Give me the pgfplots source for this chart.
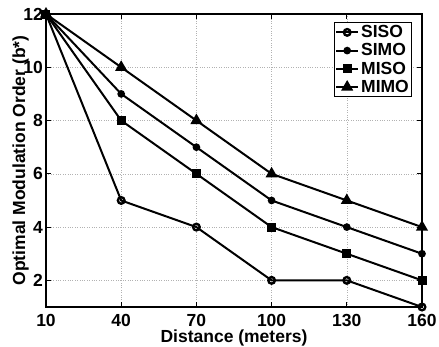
\documentclass[border=0pt]{standalone}
\usepackage{pgfplots}
\pgfplotsset{compat=1.18}
\usepackage{fontspec}
\setmainfont{Liberation Sans}
\begin{document}
\begin{tikzpicture}
\begin{axis}[
  scale only axis,
  width=376pt, height=293pt,
  xmin=10, xmax=160, ymin=1, ymax=12,
  xtick={10,40,70,100,130,160},
  ytick={2,4,6,8,10,12},
  grid=major,
  major grid style={dotted, gray!60, line width=0.6pt},
  tick align=inside,
  major tick length=5pt,
  axis line style={line width=1.2pt},
  every tick/.style={black, line width=0.8pt},
  /pgf/number format/assume math mode=true,
  tick label style={font=\fontsize{17.5}{20}\selectfont\bfseries},
  xticklabel style={anchor=base, inner sep=0pt, yshift=-19.5pt},
  yticklabel style={anchor=east, inner sep=0pt, xshift=-3pt},
  xlabel={Distance (meters)},
  ylabel={Optimal Modulation Order (b*)},
  label style={font=\fontsize{17.5}{20}\selectfont\bfseries, inner sep=0pt},
  xlabel style={at={(rel axis cs:0.5,0)}, anchor=base, yshift=-35.5pt},
  ylabel style={at={(rel axis cs:0,0.5)}, anchor=center, yshift=25.5pt},
  legend style={at={(rel axis cs:0.9745,0.973)}, anchor=north east,
    font=\fontsize{17.5}{20}\selectfont\bfseries, draw=black, line width=1.2pt,
    inner sep=1pt, row sep=0.5pt},
  legend cell align=left,
  legend image code/.code={%
    \draw[mark repeat=2,mark phase=2] plot coordinates {(0pt,0pt) (11pt,0pt) (22pt,0pt)};},
  legend image post style={line width=2pt},
  every axis plot/.append style={line width=2pt, black},
  clip=false,
]
\coordinate (ll) at (rel axis cs:0,0);
\addplot[mark=o, mark size=3.3pt, mark options={line width=2.4pt, fill=white}] coordinates {(10,12) (40,5) (70,4) (100,2) (130,2) (160,1)};
\addplot[mark=*, mark size=2.8pt] coordinates {(10,12) (40,9) (70,7) (100,5) (130,4) (160,3)};
\addplot[mark=square*, mark size=3.5pt] coordinates {(10,12) (40,8) (70,6) (100,4) (130,3) (160,2)};
\addplot[mark=triangle*, mark size=5pt] coordinates {(10,12) (40,10) (70,8) (100,6) (130,5) (160,4)};
\legend{SISO,SIMO,MISO,MIMO}
\end{axis}
\pgfresetboundingbox
\path (ll) ++(-46pt,-39pt) rectangle ++(439pt,346pt);
\end{tikzpicture}
\end{document}
